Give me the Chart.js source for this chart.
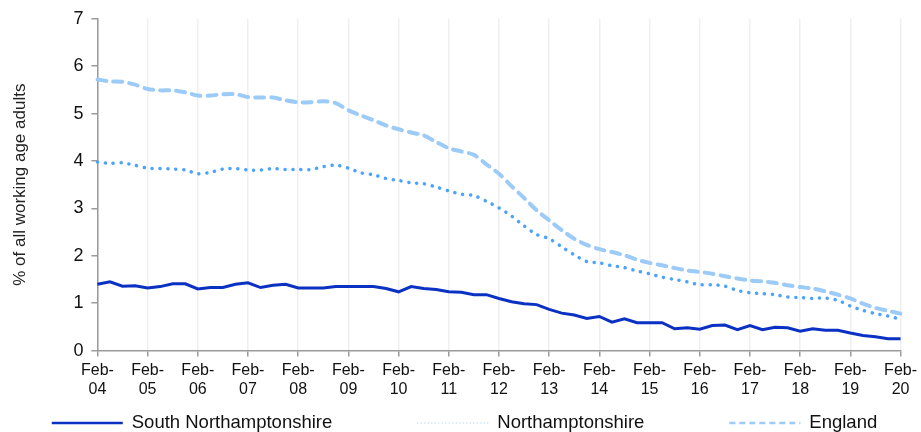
<!DOCTYPE html>
<html>
<head>
<meta charset="utf-8">
<script src="https://cdn.jsdelivr.net/npm/chart.js@4.4.1/dist/chart.umd.min.js"></script>
<style>
  body { margin: 0; background: #fff; }
  #c { display: block; }
</style>
</head>
<body>
<canvas id="c" width="921" height="432"></canvas>
<script>
// quarters Feb / May / Aug / Nov, 2004 - Feb 2020
const months = ['Feb', 'May', 'Aug', 'Nov'];
const years = ['04','05','06','07','08','09','10','11','12','13','14','15','16','17','18','19','20'];
const yTicks = [0, 1, 2, 3, 4, 5, 6, 7];

const southNorthants = [
  1.40, 1.45, 1.36, 1.37, 1.32, 1.35, 1.41, 1.41,
  1.30, 1.33, 1.33, 1.40, 1.43, 1.33, 1.38, 1.40,
  1.32, 1.32, 1.32, 1.35, 1.35, 1.35, 1.35, 1.31,
  1.24, 1.35, 1.31, 1.29, 1.24, 1.23, 1.18, 1.18,
  1.10, 1.03, 0.99, 0.97, 0.87, 0.79, 0.75, 0.68,
  0.72, 0.60, 0.67, 0.59, 0.59, 0.59, 0.46, 0.48,
  0.45, 0.53, 0.54, 0.44, 0.53, 0.44, 0.49, 0.48,
  0.41, 0.46, 0.43, 0.43, 0.37, 0.32, 0.29, 0.25,
  0.25
];
const northants = [
  3.98, 3.95, 3.96, 3.91, 3.85, 3.84, 3.83, 3.81,
  3.73, 3.76, 3.83, 3.84, 3.81, 3.81, 3.84, 3.82,
  3.82, 3.82, 3.88, 3.91, 3.85, 3.75, 3.71, 3.63,
  3.59, 3.54, 3.52, 3.45, 3.37, 3.30, 3.27, 3.15,
  3.01, 2.84, 2.63, 2.45, 2.36, 2.19, 2.02, 1.88,
  1.85, 1.79, 1.75, 1.68, 1.62, 1.55, 1.50, 1.45,
  1.39, 1.39, 1.36, 1.27, 1.22, 1.20, 1.18, 1.13,
  1.12, 1.10, 1.11, 1.06, 0.94, 0.85, 0.78, 0.73,
  0.66
];
const england = [
  5.72, 5.68, 5.67, 5.61, 5.52, 5.49, 5.49, 5.45,
  5.38, 5.38, 5.41, 5.41, 5.35, 5.34, 5.34, 5.28,
  5.24, 5.24, 5.26, 5.22, 5.07, 4.96, 4.86, 4.75,
  4.67, 4.60, 4.54, 4.40, 4.27, 4.20, 4.13, 3.93,
  3.73, 3.47, 3.22, 2.96, 2.75, 2.54, 2.36, 2.23,
  2.14, 2.08, 2.01, 1.92, 1.85, 1.80, 1.74, 1.69,
  1.66, 1.62, 1.57, 1.52, 1.48, 1.46, 1.43, 1.38,
  1.34, 1.31, 1.25, 1.18, 1.10, 0.99, 0.90, 0.84,
  0.78
];

let labels = [];
years.forEach((y, i) => {
  months.forEach(m => {
    if (i < years.length - 1 || m === 'Feb') labels.push(m + '-' + y);
  });
});

const FONT = '"Liberation Sans", Arial, sans-serif';

// legend drawn under the axis, items spread out like the original
const bottomLegend = {
  id: 'bottomLegend',
  afterDraw(chart) {
    const ctx = chart.ctx;
    ctx.save();
    ctx.font = '18.5px ' + FONT;
    const sample = 71, gapText = 9, gapItem = 85;
    const items = chart.data.datasets.map(ds => ({
      ds: ds,
      w: sample + gapText + ctx.measureText(ds.label).width
    }));
    const total = items.reduce((s, it) => s + it.w, 0) + gapItem * (items.length - 1);
    let x = (chart.width - total) / 2 + 4;
    const y = chart.height - 9;
    items.forEach(it => {
      ctx.beginPath();
      ctx.strokeStyle = it.ds.legendColor;
      ctx.lineWidth = it.ds.legendWidth;
      ctx.setLineDash(it.ds.legendDash);
      ctx.moveTo(x, y);
      ctx.lineTo(x + sample, y);
      ctx.stroke();
      ctx.setLineDash([]);
      ctx.fillStyle = '#111';
      ctx.textBaseline = 'middle';
      ctx.fillText(it.ds.label, x + sample + gapText, y);
      x += it.w + gapItem;
    });
    ctx.restore();
  }
};

new Chart(document.getElementById('c'), {
  type: 'line',
  data: {
    labels: labels,
    datasets: [
      {
        label: 'South Northamptonshire',
        data: southNorthants,
        borderColor: '#0b31c2',
        borderWidth: 3,
        pointRadius: 0,
        tension: 0,
        legendColor: '#0b31c2', legendWidth: 2.5, legendDash: []
      },
      {
        label: 'Northamptonshire',
        data: northants,
        borderColor: '#4ba3fb',
        borderWidth: 3.5,
        borderDash: [0.1, 7.8],
        borderCapStyle: 'round',
        pointRadius: 0,
        tension: 0.3,
        legendColor: '#bcdcfc', legendWidth: 1.5, legendDash: [1, 2.5]
      },
      {
        label: 'England',
        data: england,
        borderColor: '#9ccbf8',
        borderWidth: 4,
        borderDash: [9, 7],
        borderCapStyle: 'round',
        pointRadius: 0,
        tension: 0.3,
        legendColor: '#9ccbf8', legendWidth: 2.5, legendDash: [6, 4]
      }
    ]
  },
  options: {
    responsive: false,
    animation: false,
    layout: { padding: { left: 6, right: 2, top: 18, bottom: 29 } },
    plugins: {
      legend: { display: false },
      tooltip: { enabled: false }
    },
    scales: {
      x: {
        border: { color: '#9a9a9a', width: 1.5 },
        grid: {
          color: ctx => (ctx.index % 4 === 0 ? '#efefef' : 'rgba(0,0,0,0)'),
          tickColor: ctx => (ctx.index % 4 === 0 ? '#9a9a9a' : 'rgba(0,0,0,0)'),
          lineWidth: 1.5,
          tickLength: 6
        },
        ticks: {
          autoSkip: false,
          maxRotation: 0,
          color: '#111',
          padding: 4,
          font: { family: FONT, size: 16 },
          callback: function (value, index) {
            const l = this.getLabelForValue(value);
            const parts = l.split('-');
            return parts[0] === 'Feb' ? ['Feb-', parts[1]] : '';
          }
        }
      },
      y: {
        min: 0,
        max: 7,
        afterBuildTicks: axis => { axis.ticks = yTicks.map(v => ({ value: v })); },
        border: { color: '#9a9a9a', width: 1.5 },
        grid: { drawOnChartArea: false, tickLength: 6, tickColor: '#9a9a9a', lineWidth: 1.5 },
        ticks: {
          color: '#111',
          padding: 8,
          font: { family: FONT, size: 18 }
        },
        title: {
          display: true,
          text: '% of all working age adults',
          color: '#222',
          padding: { bottom: 35 },
          font: { family: FONT, size: 17 }
        }
      }
    }
  },
  plugins: [bottomLegend]
});
</script>
</body>
</html>
